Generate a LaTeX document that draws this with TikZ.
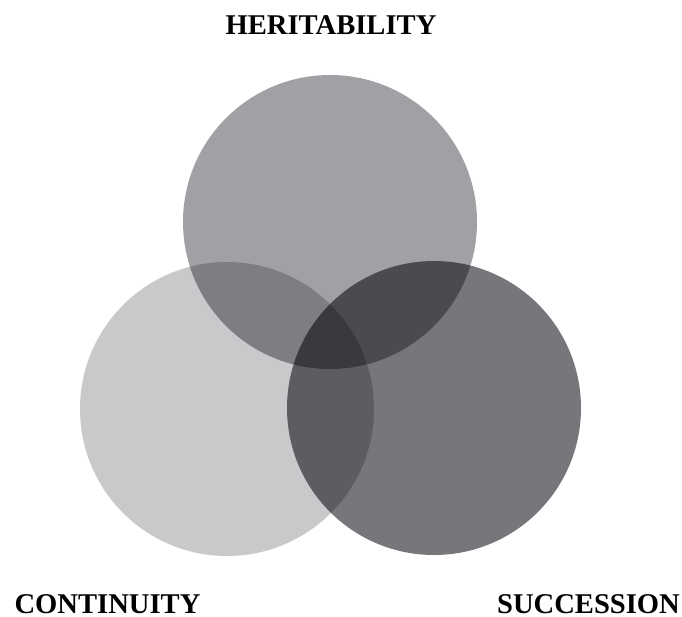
\documentclass[tikz,border=0pt]{standalone}
\usepackage{fontspec}
\setmainfont{Liberation Serif}
\usetikzlibrary{positioning}
\definecolor{greyTop}{RGB}{160,161,165}
\definecolor{greyLeft}{RGB}{200,201,203}
\definecolor{greyRight}{RGB}{118,119,123}
\tikzset{
	vennCircle/.style={
		circle,
		minimum size=294pt,
		inner sep=0pt,
		draw=none,
		fill=#1
	},
	vennLabel/.style={
		font=\fontsize{28.6}{30}\selectfont\bfseries,
		text = black,
		anchor=base,
		inner sep=0pt
	},
}
\begin{document}
\begin{tikzpicture}[x=1pt, y=-1pt]
\useasboundingbox (0,0) rectangle (682,616);

\begin{scope}[blend group=multiply]
    \node[vennCircle=greyTop] (cHerit) at (330,222){}; 
    \node[vennCircle=greyLeft] (cCont) at (227,409){}; 
    \node[vennCircle=greyRight] (cSucc) at (434,408){}; 
\end{scope}

\node[vennLabel] (lHerit) at (331,34){HERITABILITY};
\node[vennLabel] (lCont) at (107.5,613){CONTINUITY};
\node[vennLabel] (lSucc) at (588.5,613){SUCCESSION};

\end{tikzpicture}
\end{document}
